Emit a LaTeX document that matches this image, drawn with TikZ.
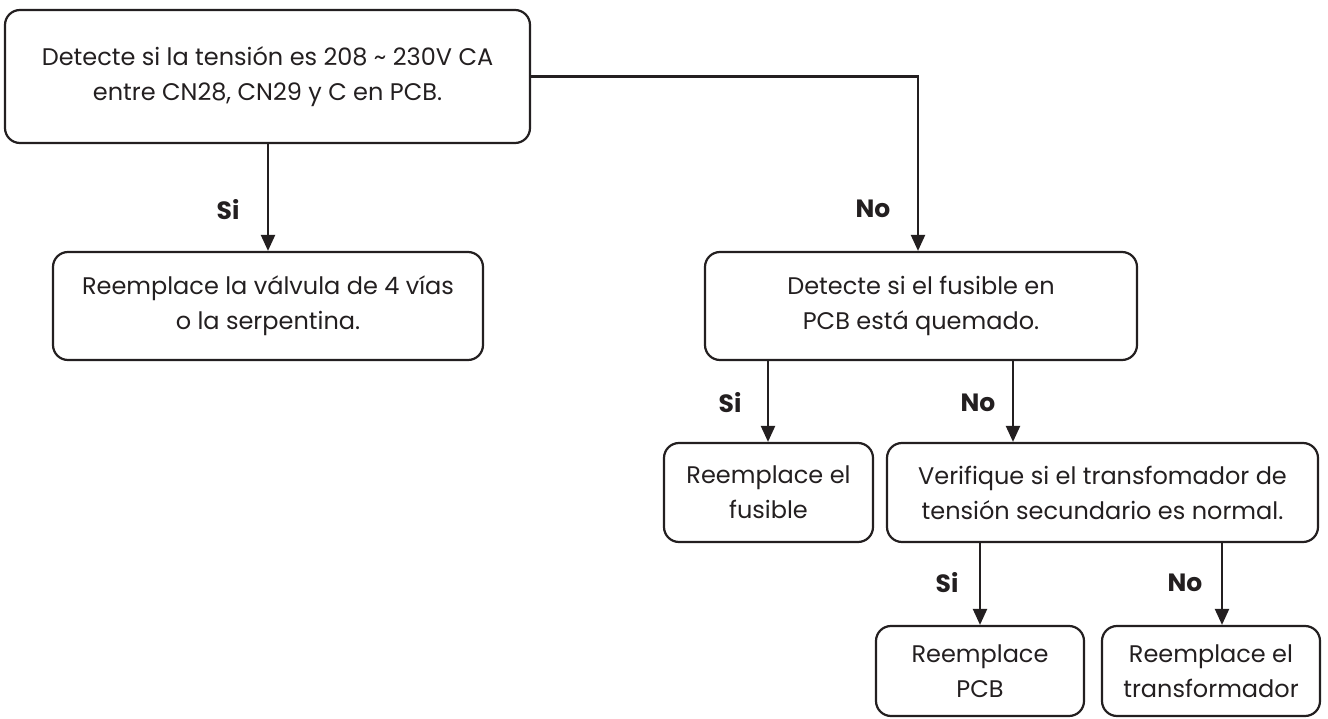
\documentclass[tikz,border=0pt]{standalone}
\usepackage{fontspec}
\setmainfont{Poppins}
\usetikzlibrary{arrows.meta}
\definecolor{ink}{HTML}{231F20}
\tikzset{
  box/.style={draw=ink, line width=2.2pt, rounded corners=15pt, align=center,
    text=ink, font=\fontsize{24}{35}\selectfont, inner sep=0pt},
  arr/.style={draw=ink, line width=2.2pt, -{Triangle[length=16pt,width=14pt]}},
  lbl/.style={text=ink, font=\fontsize{25}{28}\selectfont\bfseries}
}
\begin{document}
\begin{tikzpicture}[x=1pt,y=1pt]
\useasboundingbox (0,0) rectangle (1328,-719);
\node[box, minimum width=525pt, minimum height=133pt] (b1) at (267.5,-76.5)
  {Detecte si la tensión es 208 \char`~\ 230V CA\\entre CN28, CN29 y C en PCB.};
\node[box, minimum width=430pt, minimum height=108pt] (b2) at (268,-306)
  {Reemplace la válvula de 4 vías\\o la serpentina.};
\node[box, minimum width=432pt, minimum height=108pt] (b3) at (921,-306)
  {Detecte si el fusible en\\PCB está quemado.};
\node[box, minimum width=209pt, minimum height=99pt] (b4) at (768.5,-492.5)
  {Reemplace el\\fusible};
\node[box, minimum width=431pt, minimum height=99pt] (b5) at (1102.5,-492.5)
  {Verifique si el transfomador de\\tensión secundario es normal.};
\node[box, minimum width=208pt, minimum height=90pt] (b6) at (980,-671)
  {Reemplace\\PCB};
\node[box, minimum width=218pt, minimum height=90pt] (b7) at (1211,-671)
  {Reemplace el\\transformador};
\coordinate (c3) at (918,0);
\coordinate (c4) at (768,0);
\coordinate (c5) at (1013,0);
\coordinate (c6) at (980,0);
\coordinate (c7) at (1222,0);
\draw[arr] (b1.south -| b2.north) -- (b2.north);
\draw[arr] (b1.east) -- (b1.east -| c3) -- (b3.north -| c3);
\draw[arr] (b3.south -| c4) -- (b4.north -| c4);
\draw[arr] (b3.south -| c5) -- (b5.north -| c5);
\draw[arr] (b5.south -| c6) -- (b6.north -| c6);
\draw[arr] (b5.south -| c7) -- (b7.north -| c7);
\node[lbl] (l1) at (228,-210) {Si};
\node[lbl] (l2) at (873,-209) {No};
\node[lbl] (l3) at (730,-403) {Si};
\node[lbl] (l4) at (978,-403) {No};
\node[lbl] (l5) at (947,-583) {Si};
\node[lbl] (l6) at (1185,-583) {No};
\end{tikzpicture}
\end{document}
